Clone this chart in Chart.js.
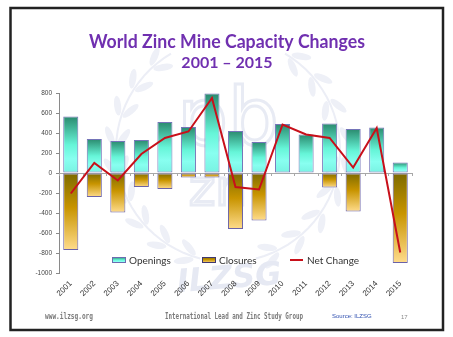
<!DOCTYPE html>
<html lang="en">
<head>
  <meta charset="UTF-8">
  <title>World Zinc Mine Capacity Changes</title>
  <script src="https://cdn.jsdelivr.net/npm/chart.js"></script>
  <style>
    html, body { margin: 0; padding: 0; background: #fff; }
    canvas { display: block; }
  </style>
</head>
<body>
  <canvas id="zincChart" width="453" height="337"></canvas>

  <script>
    // yearly capacity changes, kt
    const years = ['2001', '2002', '2003', '2004', '2005', '2006', '2007', '2008',
                   '2009', '2010', '2011', '2012', '2013', '2014', '2015'];
    const openings  = [565, 340, 320, 330, 510, 460, 795, 420, 310, 490, 385, 495, 440, 455, 105];
    const closures  = [-770, -240, -395, -140, -160, -45, -45, -560, -475, -5, 0, -145, -385, -5, -900];
    const netChange = [-205, 100, -75, 190, 350, 415, 750, -140, -165, 485, 385, 350, 55, 450, -795];
    const yTicks = { min: -1000, max: 800, step: 200 };

    const titleText = 'World Zinc Mine Capacity Changes';
    const subtitleText = '2001 – 2015';

    // vertical gradient spanning one bar, from its value down/up to zero
    function barGradient(context, stops) {
      const chart = context.chart;
      const y = chart.scales.y;
      if (!chart.chartArea || !y || context.parsed === undefined) return stops[0][1];
      const top = y.getPixelForValue(Math.max(context.parsed.y, 0));
      const bottom = y.getPixelForValue(Math.min(context.parsed.y, 0));
      if (!isFinite(top) || !isFinite(bottom) || top === bottom) return stops[0][1];
      const g = chart.ctx.createLinearGradient(0, top, 0, bottom);
      stops.forEach(s => g.addColorStop(s[0], s[1]));
      return g;
    }

    const openStops = [[0, '#2a8a6e'], [0.5, '#66f5d8'], [0.75, '#88fff0'], [1, '#78f2e2']];
    const closeStops = [[0, '#7c6a00'], [0.45, '#c89400'], [1, '#ffdc8c']];

    function leafArc(ctx, cx, cy, r, a0, a1, mirror) {
      ctx.save();
      ctx.strokeStyle = '#eceef6';
      ctx.fillStyle = '#eef0f7';
      ctx.lineWidth = 2;
      ctx.beginPath();
      for (let i = 0; i <= 30; i++) {
        const a = a0 + (a1 - a0) * i / 30;
        const x = cx + mirror * r * Math.cos(a), yy = cy + r * Math.sin(a);
        if (i === 0) ctx.moveTo(x, yy); else ctx.lineTo(x, yy);
      }
      ctx.stroke();
      for (let i = 0; i < 9; i++) {
        const a = a0 + (a1 - a0) * (i + 0.5) / 9;
        const x = cx + mirror * r * Math.cos(a), yy = cy + r * Math.sin(a);
        [-1, 1].forEach(side => {
          ctx.save();
          ctx.translate(x + mirror * side * 7 * Math.cos(a), yy + side * 7 * Math.sin(a));
          ctx.rotate(mirror * (a + Math.PI / 2) - 0.5 * side);
          ctx.beginPath();
          ctx.ellipse(0, 0, 10, 3.5, 0, 0, Math.PI * 2);
          ctx.fill();
          ctx.restore();
        });
      }
      ctx.restore();
    }

    const slideDecor = {
      id: 'slideDecor',
      beforeDraw(chart) {
        const ctx = chart.ctx;
        ctx.save();
        ctx.fillStyle = '#fff';
        ctx.fillRect(0, 0, chart.width, chart.height);

        // faint society logo behind the plot
        leafArc(ctx, 228, 150, 112, Math.PI * 0.58, Math.PI * 1.33, 1);
        leafArc(ctx, 228, 150, 112, Math.PI * 0.58, Math.PI * 1.33, -1);
        ctx.strokeStyle = '#e8ebf4';
        ctx.lineWidth = 3;
        ctx.font = '80px "DejaVu Sans"';
        ctx.textAlign = 'center';
        ctx.textBaseline = 'alphabetic';
        ctx.strokeText('pb', 228, 145);
        ctx.font = '50px "DejaVu Sans"';
        ctx.strokeText('zn', 218, 205);
        ctx.fillStyle = '#e6e9f3';
        ctx.font = 'bold italic 32px "DejaVu Sans"';
        ctx.translate(230, 288);
        ctx.rotate(-0.08);
        ctx.fillText('ILZSG', 0, 0);
        ctx.restore();
      },
      beforeDatasetsDraw(chart) {
        // small marks along the zero line between the years
        const { ctx, scales: { x, y } } = chart;
        const y0 = y.getPixelForValue(0);
        ctx.save();
        ctx.strokeStyle = '#a8a8a8';
        ctx.lineWidth = 1;
        ctx.beginPath();
        for (let i = 0; i <= years.length; i++) {
          const px = Math.round(x.getPixelForValue(i - 0.5)) + 0.5;
          ctx.moveTo(px, y0);
          ctx.lineTo(px, y0 + 3);
        }
        ctx.stroke();
        ctx.restore();
      },
      afterDraw(chart) {
        const ctx = chart.ctx;
        ctx.save();

        // heading
        ctx.fillStyle = '#7030b0';
        ctx.textAlign = 'center';
        ctx.textBaseline = 'middle';
        ctx.font = 'bold 18px Lato';
        ctx.fillText(titleText, 227, 42, 276);
        ctx.font = 'bold 16px Lato';
        ctx.fillText(subtitleText, 227, 63);

        // legend built from the dataset labels
        const ly = 260;
        ctx.textAlign = 'left';
        ctx.font = '10px Lato';
        ctx.fillStyle = '#333';
        const items = [
          { x: 112, ds: chart.data.datasets[0], stops: openStops, border: '#6c6cb0' },
          { x: 202, ds: chart.data.datasets[1], stops: closeStops, border: '#403870' },
          { x: 290, ds: chart.data.datasets[2] }
        ];
        items.forEach(it => {
          if (it.stops) {
            const g = ctx.createLinearGradient(0, ly - 3, 0, ly + 3);
            it.stops.forEach(s => g.addColorStop(s[0], s[1]));
            ctx.fillStyle = g;
            ctx.fillRect(it.x, ly - 3, 14, 6);
            ctx.strokeStyle = it.border;
            ctx.lineWidth = 1;
            ctx.strokeRect(it.x + 0.5, ly - 2.5, 13, 5);
          } else {
            ctx.strokeStyle = it.ds.borderColor;
            ctx.lineWidth = 2;
            ctx.beginPath();
            ctx.moveTo(it.x, ly);
            ctx.lineTo(it.x + 13, ly);
            ctx.stroke();
          }
          ctx.fillStyle = '#333';
          ctx.fillText(it.ds.label, it.x + 17, ly + 0.5);
        });

        // slide footer
        ctx.textBaseline = 'middle';
        ctx.fillStyle = '#7a7a7a';
        ctx.font = 'bold 8px "DejaVu Sans Mono"';
        ctx.fillText('www.ilzsg.org', 45, 317, 48);
        ctx.fillText('International Lead and Zinc Study Group', 165, 317, 138);
        ctx.fillStyle = '#3050b0';
        ctx.font = '6px "Liberation Sans"';
        ctx.fillText('Source: ILZSG', 332, 316);
        ctx.fillStyle = '#8a8a8a';
        ctx.fillText('17', 401, 317);

        // slide border
        ctx.strokeStyle = '#222';
        ctx.lineWidth = 2.5;
        ctx.strokeRect(10.5, 8, 432.5, 322);
        ctx.restore();
      }
    };

    const ctx = document.getElementById('zincChart').getContext('2d');
    const zincChart = new Chart(ctx, {
      data: {
        labels: years,
        datasets: [
          {
            type: 'bar',
            label: 'Openings',
            data: openings,
            stack: 'capacity',
            backgroundColor: c => barGradient(c, openStops),
            borderColor: '#7474b8',
            borderWidth: 1,
            borderSkipped: false,
            barPercentage: 0.64,
            categoryPercentage: 1,
            order: 2
          },
          {
            type: 'bar',
            label: 'Closures',
            data: closures,
            stack: 'capacity',
            backgroundColor: c => barGradient(c, closeStops),
            borderColor: '#6a62a8',
            borderWidth: 1,
            borderSkipped: false,
            barPercentage: 0.64,
            categoryPercentage: 1,
            order: 2
          },
          {
            type: 'line',
            label: 'Net Change',
            data: netChange,
            stack: 'net',
            borderColor: '#c8101a',
            borderWidth: 2,
            pointRadius: 0,
            tension: 0,
            fill: false,
            order: 1
          }
        ]
      },
      options: {
        responsive: false,
        animation: false,
        layout: { padding: { left: 10, right: 41, top: 93, bottom: 40 } },
        plugins: {
          legend: { display: false },
          title: { display: false },
          tooltip: { enabled: false }
        },
        scales: {
          x: {
            stacked: true,
            grid: { display: false, drawTicks: false },
            border: { display: false },
            ticks: {
              minRotation: 45,
              maxRotation: 45,
              padding: 6,
              color: '#333',
              font: { family: 'Liberation Sans', size: 8 }
            },
            afterFit: s => { s.height = 24; }
          },
          y: {
            stacked: true,
            min: yTicks.min,
            max: yTicks.max,
            grid: {
              color: c => (c.tick && c.tick.value === 0 ? '#a8a8a8' : 'rgba(0,0,0,0)'),
              tickColor: '#8a8a8a',
              tickLength: 3
            },
            border: { display: true, color: '#8a8a8a' },
            ticks: {
              stepSize: yTicks.step,
              padding: 4,
              color: '#444',
              font: { family: 'Liberation Sans', size: 6.5 },
              callback: v => String(v)
            },
            afterFit: s => { s.width = 49; }
          }
        }
      },
      plugins: [slideDecor]
    });
  </script>
</body>
</html>
